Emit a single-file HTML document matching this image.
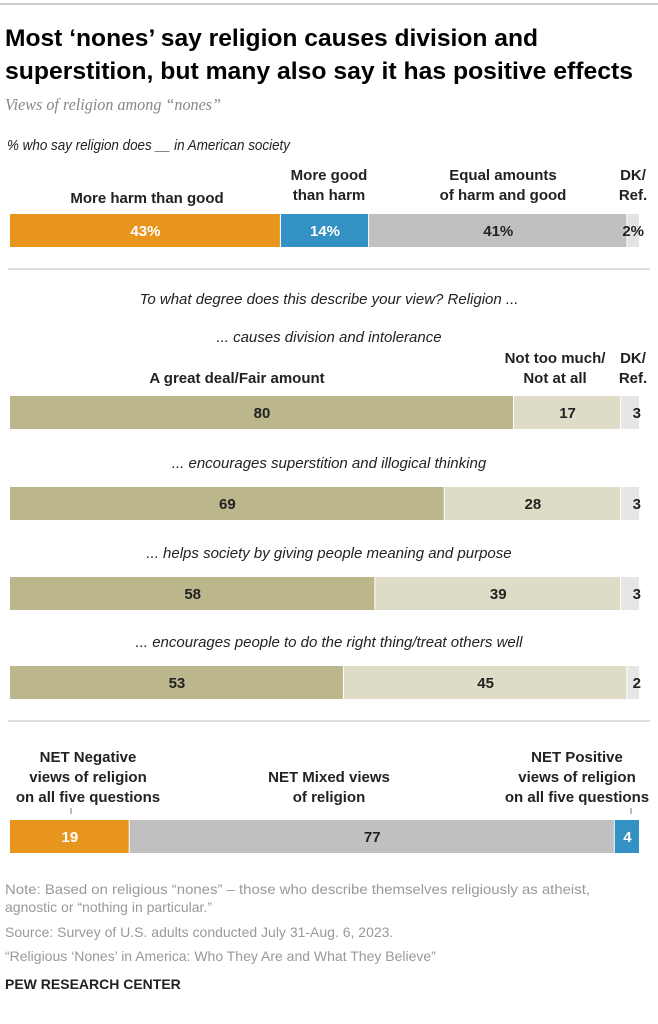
<!DOCTYPE html>
<html><head><meta charset="utf-8"><style>
body{margin:0;background:#fff;}
svg{display:block;font-family:"Liberation Sans",Arial,sans-serif;}
</style></head><body>
<svg id="chart" width="658" height="1024" viewBox="0 0 658 1024">
<line x1="0" y1="4" x2="658" y2="4" stroke="#999" stroke-width="1"/>
<text x="5" y="46" font-size="24" font-weight="bold" textLength="533" lengthAdjust="spacingAndGlyphs">Most ‘nones’ say religion causes division and</text>
<text x="5" y="79" font-size="24" font-weight="bold" textLength="628" lengthAdjust="spacingAndGlyphs">superstition, but many also say it has positive effects</text>
<text x="5" y="110" font-size="17" font-style="italic" fill="#888" font-family="Liberation Serif,serif" textLength="216" lengthAdjust="spacingAndGlyphs">Views of religion among “nones”</text>
<text x="7" y="150" font-size="15" font-style="italic" fill="#222" textLength="283" lengthAdjust="spacingAndGlyphs">% who say religion does __ in American society</text>
<g id="g1"></g>
<line x1="8" y1="269" x2="650" y2="269" stroke="#bbb"/>
<text x="329" y="304" font-size="15" font-style="italic" text-anchor="middle" fill="#222">To what degree does this describe your view? Religion ...</text>
<g id="g2"></g>
<line x1="8" y1="721" x2="650" y2="721" stroke="#bbb"/>
<g id="g3"></g>
<text x="5" y="894" font-size="14" fill="#999" textLength="585" lengthAdjust="spacingAndGlyphs">Note: Based on religious “nones” – those who describe themselves religiously as atheist,</text>
<text x="5" y="912" font-size="14" fill="#999">agnostic or “nothing in particular.”</text>
<text x="5" y="937" font-size="14" fill="#999">Source: Survey of U.S. adults conducted July 31-Aug. 6, 2023.</text>
<text x="5" y="961" font-size="14" fill="#999">“Religious ‘Nones’ in America: Who They Are and What They Believe”</text>
<text x="5" y="989" font-size="14" font-weight="bold" fill="#222">PEW RESEARCH CENTER</text>
</svg>
<script>
const topCats=["More harm than good","More good than harm","Equal amounts of harm and good","DK/Ref."];
const topValues=[43,14,41,2];
const qLabels=["... causes division and intolerance","... encourages superstition and illogical thinking","... helps society by giving people meaning and purpose","... encourages people to do the right thing/treat others well"];
const greatDeal=[80,69,58,53];
const notMuch=[17,28,39,45];
const dkRef=[3,3,3,2];
const netCats=["NET Negative","NET Mixed","NET Positive"];
const netValues=[19,77,4];
const NS="http://www.w3.org/2000/svg";
const X0=10,W=630;
const sx=v=>v/100*W;
function el(p,tag,a,txt){const e=document.createElementNS(NS,tag);for(const k in a)e.setAttribute(k,a[k]);if(txt!==undefined)e.textContent=txt;p.appendChild(e);return e;}
const g1=document.getElementById('g1');
const topCols=["#e8951e","#3391c3","#c0c0c0","#e3e3e3"];
const topTxt=["#fff","#fff","#222","#222"];
let x=X0;
topValues.forEach((v,i)=>{
 const r=el(g1,'rect',{x:x,y:214,width:Math.max(sx(v)-1,0),height:33,fill:topCols[i]});
 
 
 const t=el(g1,'text',{x:i==3?x+sx(v)+4:x+sx(v)/2,y:236,'font-size':15,'font-weight':'bold','text-anchor':i==3?'end':'middle',fill:topTxt[i]},v+'%');
 
 
 x+=sx(v);
});
const hl=[[["More harm than good"],147,1],[["More good","than harm"],329,0],[["Equal amounts","of harm and good"],503,0],[["DK/","Ref."],633,0]];
hl.forEach((h,i)=>{
 h[0].forEach((s,j)=>{
  const y=h[0].length==1?203:180+j*20;
  const t=el(g1,'text',{x:h[1],y:y,'font-size':15,'font-weight':'bold','text-anchor':'middle',fill:'#222'},s);
  
  
 });
});
const g2=document.getElementById('g2');
const rowY=[396,487,577,666];
[["A great deal/Fair amount",237,383],["Not too much/",555,363],["Not at all",555,383],["DK/",633,363],["Ref.",633,383]].forEach((h,i)=>{
 const t=el(g2,'text',{x:h[1],y:h[2],'font-size':15,'font-weight':'bold','text-anchor':'middle',fill:'#222'},h[0]);
 
 
});
qLabels.forEach((q,i)=>{
 const y=rowY[i];
 const t=el(g2,'text',{x:329,y:y-(i==0?54:19),'font-size':15,'font-style':'italic','text-anchor':'middle',fill:'#222'},q);
 
 
 let x=X0;
 const vals=[greatDeal[i],notMuch[i],dkRef[i]];
 const cols=["#bcb68c","#dedcc6","#e6e6e6"];
 vals.forEach((v,k)=>{
  const r=el(g2,'rect',{x:x,y:y,width:Math.max(sx(v)-1,0),height:33,fill:cols[k]});
  
  
  const t2=el(g2,'text',{x:k==2?x+sx(v)+1:x+sx(v)/2,y:y+22,'font-size':15,'font-weight':'bold','text-anchor':k==2?'end':'middle',fill:'#222'},v);
  
  
  x+=sx(v);
 });
});
const g3=document.getElementById('g3');
const nl=[[["NET Negative","views of religion","on all five questions"],88,762],[["NET Mixed views","of religion"],329,782],[["NET Positive","views of religion","on all five questions"],577,762]];
nl.forEach((h,i)=>{h[0].forEach((s,j)=>{
 const t=el(g3,'text',{x:h[1],y:h[2]+j*20,'font-size':15,'font-weight':'bold','text-anchor':'middle',fill:'#222'},s);
 
 
});});
el(g3,'line',{x1:71,y1:808,x2:71,y2:814,stroke:'#777'});
el(g3,'line',{x1:631,y1:808,x2:631,y2:814,stroke:'#777'});
const ncol=["#e8951e","#c0c0c0","#3391c3"],ntxt=["#fff","#222","#fff"];
x=X0;
netValues.forEach((v,i)=>{
 const r=el(g3,'rect',{x:x,y:820,width:Math.max(sx(v)-1,0),height:33,fill:ncol[i]});
 
 
 const t=el(g3,'text',{x:x+sx(v)/2,y:842,'font-size':15,'font-weight':'bold','text-anchor':'middle',fill:ntxt[i]},v);
 
 
 x+=sx(v);
});
</script>
</body></html>
